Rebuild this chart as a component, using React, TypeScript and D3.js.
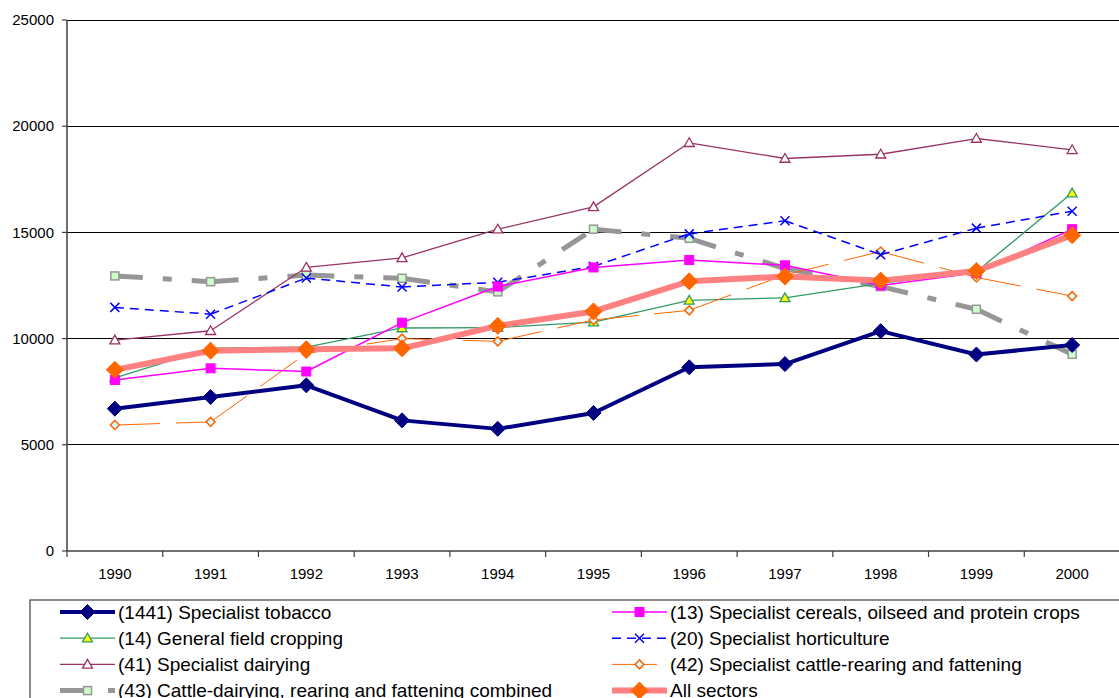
import * as d3 from "d3";

const years = ["1990", "1991", "1992", "1993", "1994", "1995", "1996", "1997", "1998", "1999", "2000"];

const tobacco = [6700, 7250, 7800, 6150, 5750, 6500, 8650, 8800, 10350, 9250, 9700];
const cereals = [8050, 8600, 8450, 10750, 12450, 13350, 13700, 13450, 12500, 13100, 15150];
const fieldCropping = [8150, 9550, 9600, 10500, 10520, 10780, 11800, 11920, 12600, 13150, 16850];
const horticulture = [11470, 11150, 12850, 12430, 12650, 13400, 14930, 15550, 13950, 15200, 16000];
const dairying = [9930, 10370, 13350, 13800, 15150, 16200, 19220, 18480, 18680, 19420, 18890];
const cattleRearing = [5930, 6080, 9300, 10000, 9870, 10880, 11330, 13000, 14100, 12880, 12000];
const cattleCombined = [12950, 12680, 12990, 12840, 12200, 15150, 14720, 13300, 12450, 11380, 9260];
const allSectors = [8530, 9430, 9500, 9540, 10600, 11280, 12700, 12920, 12730, 13180, 14870];

const yTicks = [0, 5000, 10000, 15000, 20000, 25000];

type Marker = "diamond" | "square" | "triangle" | "cross";

interface Series {
  name: string;
  values: number[];
  color: string;
  width: number;
  dash?: string;
  marker: Marker;
  size: number;
  fill: string;
  mstroke: string;
  mwidth: number;
}

const series: Record<string, Series> = {
  tobacco: { name: "(1441) Specialist tobacco", values: tobacco, color: "#000080", width: 4, marker: "diamond", size: 7.5, fill: "#000080", mstroke: "#000080", mwidth: 1 },
  cereals: { name: "(13) Specialist cereals, oilseed and protein crops", values: cereals, color: "#FF00FF", width: 1.5, marker: "square", size: 4.5, fill: "#FF00FF", mstroke: "#FF00FF", mwidth: 1 },
  field: { name: "(14) General field cropping", values: fieldCropping, color: "#339966", width: 1.3, marker: "triangle", size: 5, fill: "#FFFF00", mstroke: "#339966", mwidth: 1.3 },
  hort: { name: "(20) Specialist horticulture", values: horticulture, color: "#0000FF", width: 1.5, dash: "9,6", marker: "cross", size: 4.5, fill: "none", mstroke: "#0000FF", mwidth: 1.5 },
  dairy: { name: "(41) Specialist dairying", values: dairying, color: "#993366", width: 1.3, marker: "triangle", size: 5, fill: "#FFFFFF", mstroke: "#993366", mwidth: 1.3 },
  rearing: { name: "(42) Specialist cattle-rearing and fattening", values: cattleRearing, color: "#FF6600", width: 1, dash: "45,16", marker: "diamond", size: 4.5, fill: "#CCFFFF", mstroke: "#FF6600", mwidth: 1.5 },
  combined: { name: "(43) Cattle-dairying, rearing and fattening combined", values: cattleCombined, color: "#969696", width: 5, dash: "28,20,9,20", marker: "square", size: 4, fill: "#CCFFCC", mstroke: "#969696", mwidth: 1.5 },
  all: { name: "All sectors", values: allSectors, color: "#FF8080", width: 6, marker: "diamond", size: 8.5, fill: "#FF6600", mstroke: "#FF6600", mwidth: 1 },
};

// drawing order (last on top)
const drawOrder = ["combined", "dairy", "field", "rearing", "hort", "cereals", "tobacco", "all"];
const legendLeft = ["tobacco", "field", "dairy", "combined"];
const legendRight = ["cereals", "hort", "rearing", "all"];

const W = 1119;
const H = 698;
const FONT = "'Liberation Sans', Arial, sans-serif";

function MarkerShape({ s, x, y }: { s: Series; x: number; y: number }) {
  const r = s.size;
  if (s.marker === "diamond") {
    return <path d={`M${x},${y - r}L${x + r},${y}L${x},${y + r}L${x - r},${y}Z`} fill={s.fill} stroke={s.mstroke} strokeWidth={s.mwidth} />;
  }
  if (s.marker === "square") {
    return <rect x={x - r} y={y - r} width={2 * r} height={2 * r} fill={s.fill} stroke={s.mstroke} strokeWidth={s.mwidth} />;
  }
  if (s.marker === "triangle") {
    return <path d={`M${x},${y - r}L${x + r},${y + r * 0.75}L${x - r},${y + r * 0.75}Z`} fill={s.fill} stroke={s.mstroke} strokeWidth={s.mwidth} />;
  }
  return <path d={`M${x - r},${y - r}L${x + r},${y + r}M${x - r},${y + r}L${x + r},${y - r}`} stroke={s.mstroke} strokeWidth={s.mwidth} fill="none" />;
}

export default function App() {
  const plotLeft = 67;
  const plotTop = 20;
  const plotBottom = 551;
  const plotRight = 1120;

  const x = d3.scaleBand<string>().domain(years).range([plotLeft, plotRight]);
  const cx = (yr: string) => (x(yr) ?? 0) + x.bandwidth() / 2;
  const y = d3.scaleLinear().domain([0, 25000]).range([plotBottom, plotTop]);
  const line = d3.line<[number, number]>();

  const rowY = (i: number) => 612 + i * 26.2;

  const legendItem = (key: string, i: number, x0: number) => {
    const s = series[key];
    const yy = rowY(i);
    return (
      <g key={key}>
        <line x1={x0} x2={x0 + 55} y1={yy} y2={yy} stroke={s.color} strokeWidth={s.width} strokeDasharray={s.dash} />
        <MarkerShape s={s} x={x0 + 27.5} y={yy} />
        <text x={x0 + 58} y={yy} dy="0.35em" fontSize={19} fontFamily={FONT} fill="#000">{s.name}</text>
      </g>
    );
  };

  return (
    <svg width={W} height={H} style={{ position: "absolute", left: 0, top: 0, background: "#fff" }}>
      {/* gridlines */}
      {yTicks.filter((t) => t > 0).map((t) => (
        <line key={t} x1={plotLeft} x2={plotRight} y1={y(t)} y2={y(t)} stroke="#000" strokeWidth={1} shapeRendering="crispEdges" />
      ))}
      {/* axes */}
      <line x1={plotLeft} x2={plotLeft} y1={plotTop} y2={plotBottom} stroke="#404040" strokeWidth={1.5} />
      <line x1={plotLeft} x2={plotRight} y1={plotBottom} y2={plotBottom} stroke="#404040" strokeWidth={1.5} />
      {yTicks.map((t) => (
        <g key={t}>
          <line x1={plotLeft - 5} x2={plotLeft} y1={y(t)} y2={y(t)} stroke="#404040" strokeWidth={1.2} />
          <text x={54} y={y(t)} dy="0.35em" textAnchor="end" fontSize={15} fontFamily={FONT} fill="#000">{t}</text>
        </g>
      ))}
      {years.map((yr) => (
        <g key={yr}>
          <line x1={x(yr)} x2={x(yr)} y1={plotBottom} y2={plotBottom + 6} stroke="#404040" strokeWidth={1.2} />
          <text x={cx(yr)} y={574} dy="0.35em" textAnchor="middle" fontSize={15} fontFamily={FONT} fill="#000">{yr}</text>
        </g>
      ))}

      {/* series */}
      {drawOrder.map((key) => {
        const s = series[key];
        const pts: [number, number][] = s.values.map((v, i) => [cx(years[i]), y(v)]);
        return (
          <g key={key}>
            {pts.slice(1).map((p, i) => (
              <path key={i} d={line([pts[i], p]) ?? ""} fill="none" stroke={s.color} strokeWidth={s.width} strokeDasharray={s.dash} strokeLinejoin="round" />
            ))}
            {pts.map((p, i) => (
              <MarkerShape key={i} s={s} x={p[0]} y={p[1]} />
            ))}
          </g>
        );
      })}

      {/* legend */}
      <rect x={30} y={600} width={1200} height={200} fill="#fff" stroke="#404040" strokeWidth={1.2} />
      {legendLeft.map((k, i) => legendItem(k, i, 60))}
      {legendRight.map((k, i) => legendItem(k, i, 612))}
    </svg>
  );
}
